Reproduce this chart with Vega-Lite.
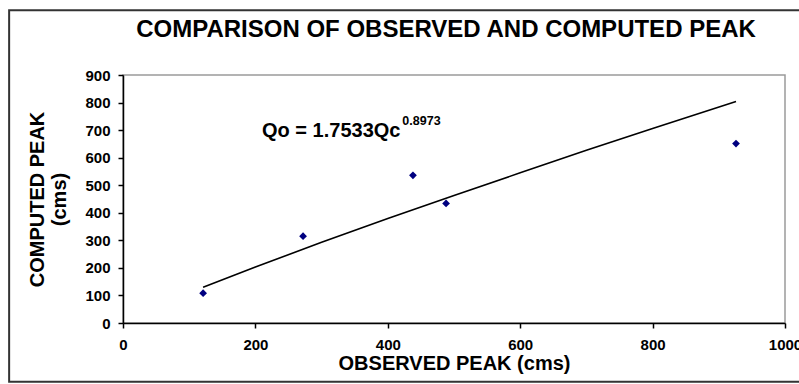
{
  "$schema": "https://vega.github.io/schema/vega-lite/v6.json",
  "width": 662,
  "height": 248,
  "autosize": {"type": "none"},
  "padding": {"left": 123, "top": 75, "right": 14, "bottom": 61},
  "background": "white",
  "config": {
    "font": "Liberation Sans",
    "view": {"stroke": "#9a9a9a", "strokeWidth": 1.5},
    "axis": {
      "domainColor": "black", "domainWidth": 1.5, "tickColor": "black", "tickWidth": 1.5,
      "tickSize": 5, "labelFont": "Liberation Sans", "labelFontWeight": "bold", "labelFontSize": 15,
      "labelColor": "black", "titleFont": "Liberation Sans", "titleFontWeight": "bold",
      "titleFontSize": 20, "titleColor": "black", "grid": false, "labelOverlap": false
    },
    "axisY": {"tickCount": 10}
  },
  "title": {
    "text": "COMPARISON OF OBSERVED AND COMPUTED PEAK",
    "font": "Liberation Sans", "fontSize": 24, "fontWeight": "bold", "color": "black",
    "anchor": "middle", "offset": -33, "dx": -8
  },
  "datasets": {
    "obs": [
      {"observed": 121, "computed": 108},
      {"observed": 272, "computed": 315},
      {"observed": 438, "computed": 536},
      {"observed": 488, "computed": 434},
      {"observed": 926, "computed": 651}
    ],
    "trend": [
      {"observed": 121, "computed": 130},
      {"observed": 200, "computed": 203},
      {"observed": 300, "computed": 293},
      {"observed": 400, "computed": 379},
      {"observed": 500, "computed": 463},
      {"observed": 600, "computed": 545},
      {"observed": 700, "computed": 627},
      {"observed": 800, "computed": 706},
      {"observed": 926, "computed": 804}
    ]
  },
  "layer": [
    {
      "data": {"name": "trend"},
      "mark": {"type": "line", "color": "black", "strokeWidth": 1.6},
      "encoding": {
        "x": {"field": "observed", "type": "quantitative",
              "scale": {"domain": [0, 1000], "nice": false},
              "axis": {"values": [0, 200, 400, 600, 800, 1000], "format": "d", "title": "OBSERVED PEAK (cms)", "titlePadding": 1, "labelPadding": 9, "labelFlush": false}},
        "y": {"field": "computed", "type": "quantitative",
              "scale": {"domain": [0, 900], "nice": false},
              "axis": {"values": [0, 100, 200, 300, 400, 500, 600, 700, 800, 900], "tickCount": 10, "format": "d", "title": ["COMPUTED PEAK", "(cms)"], "titlePadding": 15, "labelPadding": 8, "labelFlush": false}}
      }
    },
    {
      "data": {"name": "obs"},
      "mark": {"type": "point", "shape": "diamond", "filled": true, "color": "#000080", "size": 60, "opacity": 1},
      "encoding": {
        "x": {"field": "observed", "type": "quantitative"},
        "y": {"field": "computed", "type": "quantitative",
              "axis": {"values": [0, 100, 200, 300, 400, 500, 600, 700, 800, 900], "tickCount": 10}}
      }
    },
    {
      "data": {"values": [{"label": "Qo = 1.7533Qc"}]},
      "mark": {"type": "text", "align": "left", "baseline": "alphabetic", "fontSize": 20, "fontWeight": "bold", "color": "black"},
      "encoding": {
        "x": {"datum": 210, "type": "quantitative"},
        "y": {"datum": 674, "type": "quantitative",
              "axis": {"values": [0, 100, 200, 300, 400, 500, 600, 700, 800, 900], "tickCount": 10}},
        "text": {"field": "label"}
      }
    },
    {
      "data": {"values": [{"label": "0.8973"}]},
      "mark": {"type": "text", "align": "left", "baseline": "alphabetic", "fontSize": 12.5, "fontWeight": "bold", "color": "black"},
      "encoding": {
        "x": {"datum": 422, "type": "quantitative"},
        "y": {"datum": 718, "type": "quantitative",
              "axis": {"values": [0, 100, 200, 300, 400, 500, 600, 700, 800, 900], "tickCount": 10}},
        "text": {"field": "label"}
      }
    },
    {
      "data": {"values": [{"frame": "outer"}]},
      "mark": {"type": "rect", "fill": null, "fillOpacity": 0, "stroke": "#333333", "strokeWidth": 2, "clip": false},
      "encoding": {
        "x": {"datum": -172, "type": "quantitative"},
        "x2": {"datum": 1040},
        "y": {"datum": 1135, "type": "quantitative",
              "axis": {"values": [0, 100, 200, 300, 400, 500, 600, 700, 800, 900], "tickCount": 10}},
        "y2": {"datum": -213}
      }
    }
  ]
}
